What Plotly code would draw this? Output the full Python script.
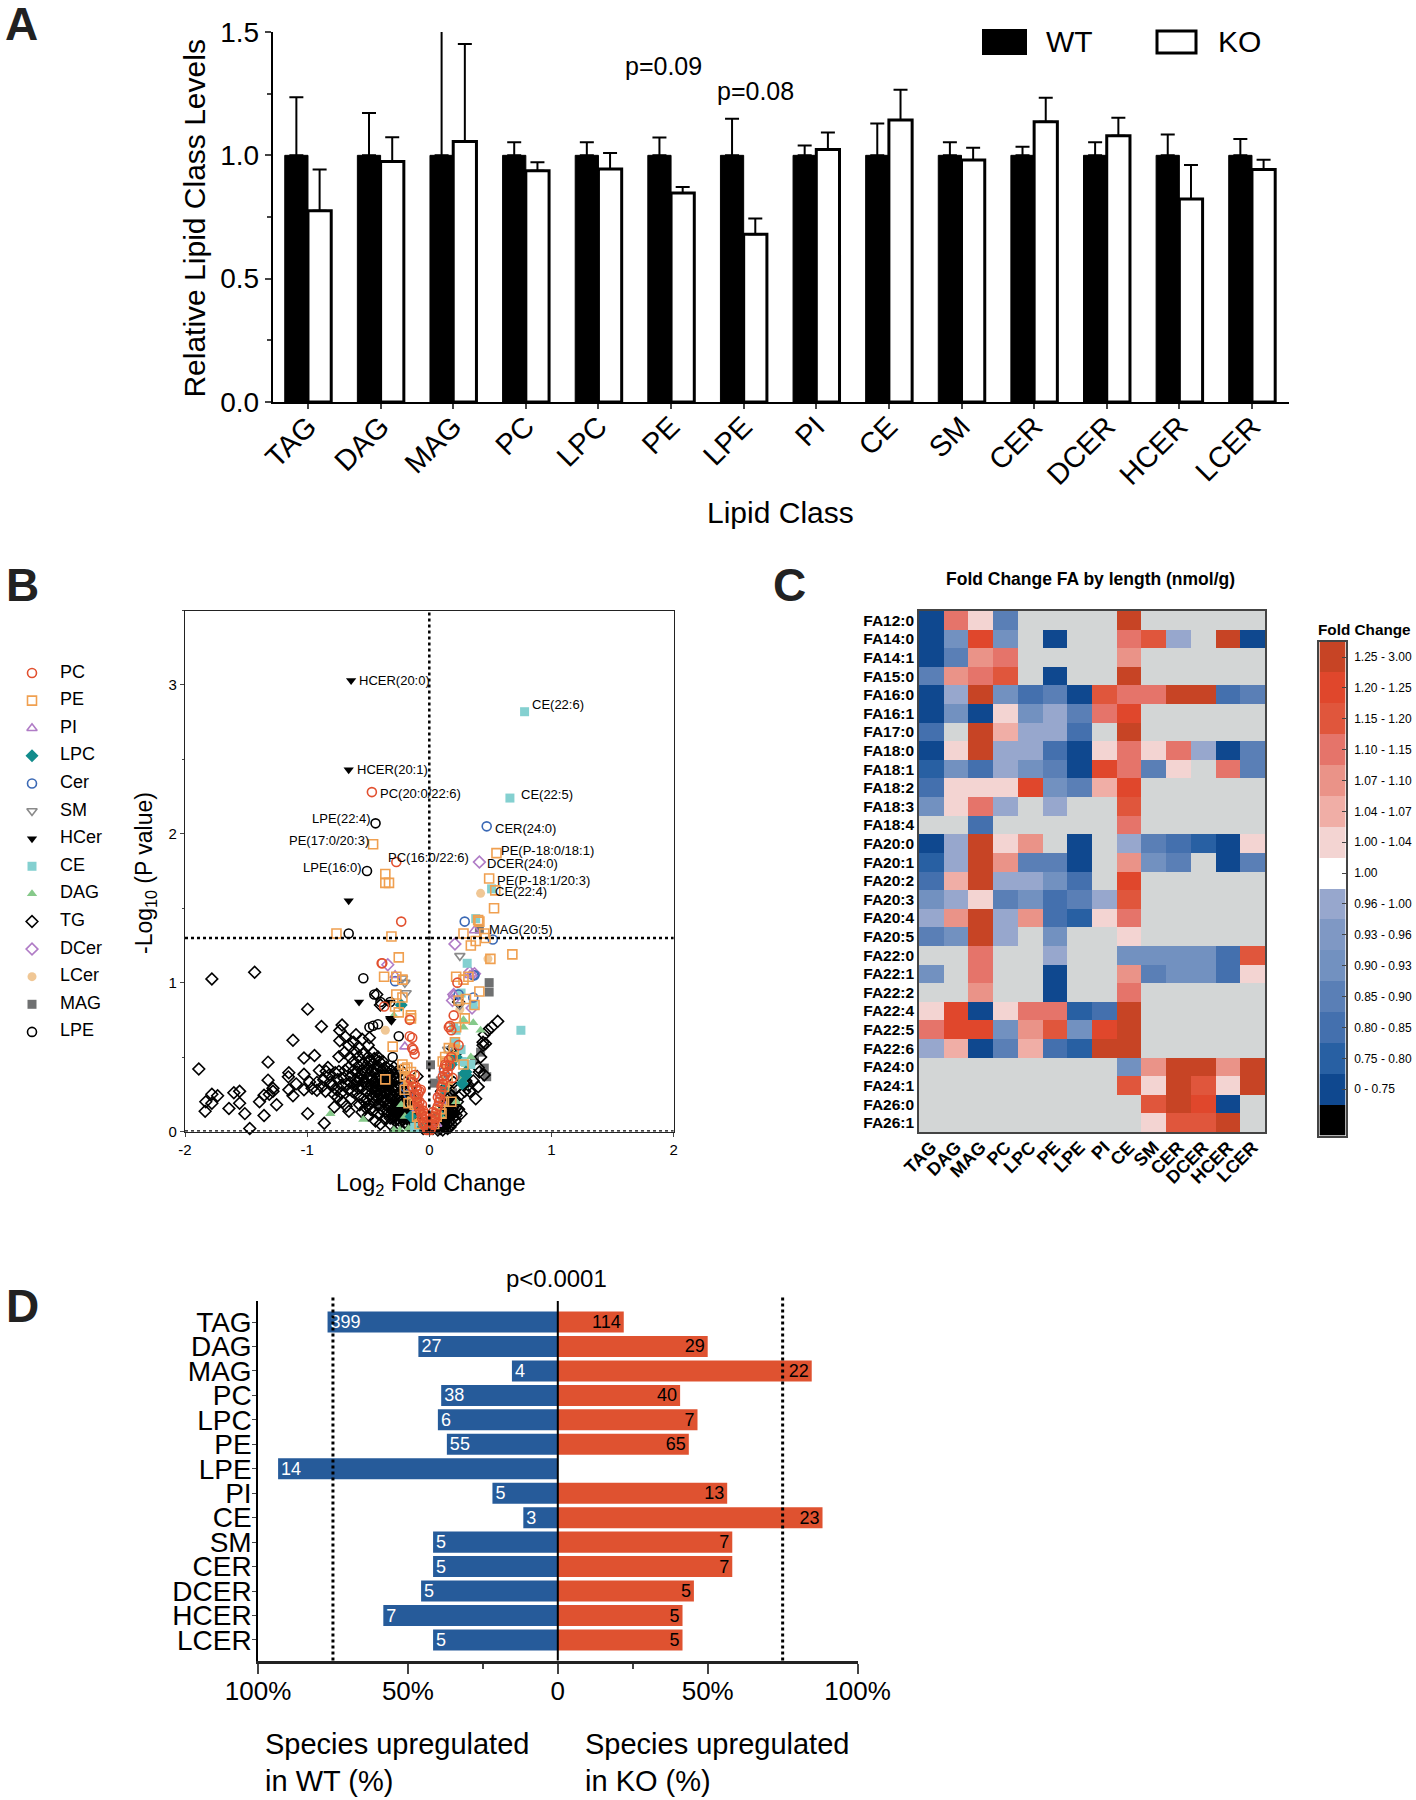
import plotly.graph_objects as go

FONT = "Liberation Sans"
W, H = 1416, 1800

# ---------- Panel A ----------
classes = ["TAG","DAG","MAG","PC","LPC","PE","LPE","PI","CE","SM","CER","DCER","HCER","LCER"]
wt_level = [1.0]*14
wt_err = [0.235,0.172,0.60,0.053,0.053,0.072,0.148,0.04,0.129,0.053,0.035,0.053,0.084,0.066]
ko_level = [0.775,0.975,1.056,0.938,0.945,0.847,0.68,1.024,1.143,0.981,1.136,1.079,0.823,0.943]
ko_err = [0.168,0.098,0.395,0.034,0.064,0.025,0.064,0.069,0.123,0.05,0.097,0.073,0.138,0.039]

# ---------- Panel B ----------
PC = [(-.47,2.28),(-.27,1.81),(-.23,1.41),(-.39,1.13),(-.385,1.13),(.23,1.0),(-.37,.84),(-.16,.75),(.2,.78),(.17,.71),(.16,.7),(.18,.68),(.24,.58),
      (-.16,.64),(-.14,.63),(-.14,.56),(-.13,.55),(-.12,.52),(-.11,.3),(-.1,.28),(-.12,.25),(-.09,.25),(-.07,.28),(-.1,.22),(-.08,.2),(-.06,.18),
      (-.09,.17),(-.05,.14),(-.07,.13),(-.04,.12),(-.03,.1),(-.06,.09),(-.02,.07),(-.04,.06),(-.03,.03),(-.01,.02),(-.02,.01),(0,.01),(.01,.01),
      (.02,.03),(.03,.05),(.02,.08),(.04,.1),(.05,.12),(.03,.13),(.06,.15),(.08,.2),(.07,.23),(.09,.25),(.1,.27),(.11,.32),(.12,.35),(.13,.38),
      (.12,.42),(.14,.44),(.15,.4),(.16,.48),(.18,.5),(.19,.36),(-.13,.33),(-.15,.35),(-.12,.38),(-.1,.2),(-.14,.3),(.1,.3),(.09,.22),(.07,.17),
      (.05,.09),(.04,.07),(-.08,.15),(-.06,.11),(-.05,.05),(.11,.37),(.13,.45),(.17,.44),(-.11,.24),(-.08,.27)]
PE = [(-.46,1.93),(.55,1.87),(.49,1.7),(.54,1.62),(.53,1.5),(.4,1.42),(.41,1.41),(.28,1.33),(.45,1.33),(.46,1.3),(.38,1.28),(.34,1.25),(.68,1.19),
      (.5,1.16),(-.36,1.73),(-.36,1.67),(-.33,1.67),(-.76,1.33),(-.31,1.31),(-.25,1.17),(.22,1.04),(.32,1.04),(.28,1.02),(.41,.94),(-.27,1.04),
      (-.37,1.04),(-.22,1.02),(-.27,.92),(-.22,.9),(.24,.88),(.3,.89),(.37,.85),(-.28,.84),(-.25,.8),(-.15,.78),(-.15,.76),(.29,.76),(.22,.7),
      (.21,.6),(.2,.55),(.16,.56),(.13,.5),(.11,.47),(.19,.5),(.14,.46),(.28,.45),(-.3,.57),(-.36,.35),(-.2,.42),(-.22,.45),(-.18,.43),(-.2,.37),
      (-.17,.35),(-.15,.4),(-.2,.28),(-.17,.3),(-.14,.2),(-.12,.18),(-.17,.19),(.18,.2),(.12,.2),(.09,.15),(.06,.1),(-.06,.1),(-.1,.1),(-.08,.05),
      (.04,.05),(.1,.12),(.12,.3),(.15,.35)]
PI = [(.37,1.35),(.33,1.05),(-.2,.57),(-.28,1.05),(.35,1.06),(.2,.92),(-.1,.15),(.1,.2),(.06,.05)]
LPC = [(-.23,.85),(.3,.4),(.29,.39),(.3,.38),(-.15,.1),(.18,.45),(.22,.5),(-.05,.03),(.27,.32),(.08,.12),(.12,.28)]
Cer = [(.47,2.05),(.29,1.41),(.52,1.29),(.36,1.05),(.37,1.05),(.36,.9),(-.28,1.01),(-.2,.3),(.24,.92),(.12,.4),(-.17,.25)]
SM = [(.25,1.18),(-.2,1.0),(-.19,.93),(-.22,1.03),(.15,.55),(.1,.35),(-.1,.2),(.02,.03),(.25,.85)]
HCer = [(-.64,3.03),(-.66,2.43),(-.66,1.55),(-.575,.87),(-.33,.87),(-.32,.76),(-.31,.74),(-.32,.75),(.3,.31),(.28,.3),(.1,.02),(.2,.5)]
CE = [(.78,2.82),(.66,2.24),(.51,1.63),(.38,1.43),(.31,1.13),(.75,.68),(.26,.93),(.36,.85),(.2,.7),(.22,.68),(-.12,.03),(-.08,.02),(.26,.55),
      (.27,.47),(.34,.45),(.21,.6)]
DAG = [(-.81,.12),(-.54,.08),(-.29,.01),(-.24,.01),(-.17,.02),(-.15,.01),(-.29,.78),(-.23,.18),(-.2,.1),(.28,.75),(.36,.73),(.28,.7),(.42,.68),
       (.29,.38),(.28,.3),(.22,.2),(.1,.1),(-.13,.02),(.3,.45),(.34,.5),(.27,.35),(-.12,.04)]
DCer = [(.41,1.81),(.21,1.26),(-.34,1.12),(.33,1.07),(.37,1.06),(.2,.92),(.19,.88),(.35,.83),(.09,.25),(-.13,.2)]
LCer = [(.42,1.6),(.48,1.16),(-.36,.68),(.25,.82),(.17,.3),(.1,.2)]
MAG = [(.41,1.36),(.49,1.0),(.49,.937),(.01,.448),(.04,.325),(.42,.533),(.37,.48),(.45,.426),(.47,.368),(.27,.37),(.19,.26),(-.418,.168),(-.26,.39)]
LPE = [(-.44,2.07),(-.51,1.75),(-.66,1.33),(-.54,1.03),(-.45,.92),(-.4,.87),(-.49,.7),(-.46,.71),(-.25,.64),(-.32,.87),(-.3,.5),(-.42,.72)]
TG = [(-1.887,.42),(-1.78,1.025),(-1.43,1.07),(-1.835,.136),(-1.83,.2),(-1.78,.25),(-1.733,.24),(-1.78,.19),(-1.64,.155),(-1.6,.26),(-1.553,.27),
      (-1.553,.19),(-1.51,.12),(-1.47,.02),(-1.39,.2),(-1.353,.107),(-1.353,.243),(-1.31,.25),(-1.32,.466),(-1.32,.345),(-1.28,.27),(-1.25,.18),
      (-1.28,.29),(-1.15,.395),(-1.15,.28),(-1.116,.24),(-1.116,.613),(-1.154,.367),(-1.09,.32),(-1.026,.494),(-1.026,.28),(-1.026,.384),(-.996,.822),
      (-.996,.12),(-.94,.51),(-.98,.333),(-.92,.33),(-.883,.706),(-.86,.056),(-.92,.277),(-.865,.347),(-.83,.43),(-.845,.404),(-.81,.333),(-.77,.395),
      (-.74,.404),(-.714,.715),(-.733,.678),(-.688,.636),(-.733,.61),(-.74,.503),(-.695,.53),(-.778,.164),(-.658,.136),(-.79,.31),(-.76,.28),(-.72,.26),
      (-.75,.23),(-.7,.36),(-.68,.32),(-.66,.28),(-.71,.2),(-.68,.17),(-.64,.22),(-.62,.6),(-.58,.57),(-.66,.58),(-.6,.53),(-.55,.62),(-.5,.58),(-.65,.5),
      (-.62,.47),(-.58,.5),(-.54,.52),(-.5,.5),(-.46,.53),(-.42,.5),(-.66,.43),(-.62,.41),(-.58,.44),(-.54,.46),(-.5,.43),(-.46,.46),(-.42,.44),(-.38,.47),
      (-.35,.43),(-.64,.37),(-.6,.35),(-.56,.38),(-.52,.4),(-.48,.37),(-.44,.39),(-.4,.37),(-.36,.38),(-.32,.36),(-.62,.31),(-.58,.29),(-.54,.33),(-.5,.31),
      (-.46,.33),(-.42,.31),(-.38,.33),(-.34,.31),(-.3,.33),(-.27,.3),(-.6,.25),(-.56,.23),(-.52,.27),(-.48,.25),(-.44,.27),(-.4,.25),(-.36,.27),(-.32,.25),
      (-.28,.27),(-.25,.24),(-.57,.18),(-.53,.2),(-.49,.18),(-.45,.2),(-.41,.18),(-.37,.2),(-.33,.18),(-.29,.2),(-.26,.17),(-.23,.2),(-.55,.13),(-.5,.11),
      (-.46,.14),(-.42,.12),(-.38,.14),(-.34,.12),(-.3,.14),(-.27,.11),(-.24,.14),(-.21,.12),(-.44,.07),(-.4,.05),(-.36,.08),(-.32,.05),(-.28,.07),(-.25,.05),
      (-.22,.08),(-.19,.05),(-.16,.07),(-.53,.34),(-.47,.29),(-.43,.35),(-.39,.29),(-.35,.35),(-.31,.29),(-.29,.38),(-.27,.35),(-.24,.31),(-.22,.28),(-.2,.24),
      (-.35,.22),(-.31,.22),(-.27,.22),(-.24,.22),(-.21,.19),(-.19,.16),(-.17,.13),(-.33,.16),(-.29,.16),(-.25,.16),(-.22,.15),(-.2,.1),(-.18,.09),(-.15,.11),
      (-.14,.05),(-.3,.1),(-.26,.09),(-.23,.1),(-.46,.23),(-.42,.22),(-.38,.23),(-.51,.22),(-.55,.3),(-.59,.33),(-.63,.27),(-.51,.36),(-.47,.41),(-.43,.42),
      (-.39,.41),(-.55,.41),(-.59,.4),(-.35,.4),(-.31,.41),(-.27,.4),(-.72,.31),(-.75,.35),(-.69,.41),(-.65,.33),(-.78,.25),(-.82,.38),(-.88,.3),(-.85,.27),
      (-.96,.29),(-.9,.41),(-.23,.41),(-.21,.36),(-.16,.29),(-.19,.33),(-.15,.23),(-.13,.17),(-.11,.1),(-.1,.06),(-.07,.05),(-.05,.02),(-.49,.63),(-.6,.65),
      (-.43,.92),(-.4,.85),(.24,.87),(.03,.02),(.05,.03),(.07,.01),(.09,.02),(.11,.01),(.13,.03),(.15,.02),(.17,.03),(.06,.05),(.08,.04),(.1,.05),(.12,.06),
      (.14,.05),(.16,.06),(.18,.05),(.09,.08),(.11,.09),(.13,.08),(.15,.09),(.17,.1),(.19,.09),(.21,.07),(.1,.12),(.12,.13),(.14,.12),(.16,.13),(.18,.14),(.2,.13),
      (.22,.11),(.12,.17),(.14,.16),(.16,.18),(.18,.19),(.2,.17),(.22,.16),(.14,.22),(.16,.23),(.18,.24),(.2,.21),(.24,.15),(.26,.12),(.23,.2),(.26,.25),(.29,.27),
      (.33,.27),(.38,.22),(.4,.3),(.41,.4),(.4,.43),(.45,.38),(.42,.5),(.44,.58),(.46,.59),(.44,.6),(.45,.65),(.48,.68),(.51,.7),(.56,.74),(.2,.33),(.22,.29),
      (.19,.56),(.21,.52),(.3,.34),(.32,.31),(.36,.34),(-.1,.37),(.1,.27),(.06,.09),
      (-.44,.3),(-.41,.28),(-.37,.3),(-.33,.28),(-.29,.3),(-.43,.24),(-.39,.21),(-.35,.25),(-.31,.24),(-.27,.19),(-.34,.14),(-.3,.18),(-.26,.13),(-.23,.17),
      (-.22,.24),(-.19,.2),(-.28,.13),(-.24,.11),(-.2,.14),(-.18,.17),(-.16,.16),(-.32,.09),(-.28,.1),(-.24,.07),(-.2,.06),(-.17,.04),(-.52,.16),(-.48,.15),
      (-.57,.36),(-.53,.43),(-.49,.47),(-.45,.49),(-.41,.47),(-.37,.42),(-.33,.39),(-.29,.43),(-.47,.35),(-.41,.34),(-.37,.35),(-.33,.34),(.08,.06),(.1,.07),
      (.12,.09),(.14,.08),(.16,.1),(.18,.11),(.07,.03),(.11,.04),(.13,.1),(.15,.12),(.17,.15),(.19,.16),(.15,.19)]

series_order = ["LPE","MAG","LCer","DCer","TG","DAG","CE","HCer","SM","Cer","LPC","PI","PE","PC"]
legend_order = ["PC","PE","PI","LPC","Cer","SM","HCer","CE","DAG","TG","DCer","LCer","MAG","LPE"]
points = dict(PC=PC,PE=PE,PI=PI,LPC=LPC,Cer=Cer,SM=SM,HCer=HCer,CE=CE,DAG=DAG,TG=TG,DCer=DCer,LCer=LCer,MAG=MAG,LPE=LPE)
volcano_labels = ["HCER(20:0)","CE(22:6)","HCER(20:1)","PC(20:0/22:6)","CE(22:5)","LPE(22:4)","CER(24:0)","PE(17:0/20:3)","PE(P-18:0/18:1)",
                  "PC(16:0/22:6)","DCER(24:0)","LPE(16:0)","PE(P-18:1/20:3)","CE(22:4)","MAG(20:5)"]
volcano_label_x = [-.58,.83,-.6,-.41,.746,-.965,.528,-1.153,.576,-.345,.464,-1.044,.55,.528,.479]
volcano_label_y = [3.031,2.867,2.432,2.268,2.266,2.1,2.037,1.955,1.887,1.842,1.802,1.774,1.689,1.61,1.356]

style = {
 "PC":("circle-open","#e2502f",9), "PE":("square-open","#f0a050",9), "PI":("triangle-up-open","#b07cc6",9),
 "LPC":("diamond","#128c8c",10), "Cer":("circle-open","#3b69b5",9), "SM":("triangle-down-open","#8a8a8a",9),
 "HCer":("triangle-down","#000000",9), "CE":("square","#84d0d0",9), "DAG":("triangle-up","#86c98a",9),
 "TG":("diamond-open","#000000",9), "DCer":("diamond-open","#b07cc6",9), "LCer":("circle","#f0c795",9),
 "MAG":("square","#6f7071",9), "LPE":("circle-open","#000000",9),
}

# ---------- Panel C ----------
fa_rows = ["FA12:0","FA14:0","FA14:1","FA15:0","FA16:0","FA16:1","FA17:0","FA18:0","FA18:1","FA18:2","FA18:3","FA18:4","FA20:0","FA20:1","FA20:2",
           "FA20:3","FA20:4","FA20:5","FA22:0","FA22:1","FA22:2","FA22:4","FA22:5","FA22:6","FA24:0","FA24:1","FA26:0","FA26:1"]
G = 16  # no data
heat_bins = [
 [14,3,6,11,G,G,G,G,0,G,G,G,G,G],
 [14,10,1,10,G,14,G,G,3,2,8,G,0,14],
 [14,11,4,3,G,G,G,G,4,G,G,G,G,G],
 [11,4,3,2,G,14,G,G,0,G,G,G,G,G],
 [14,8,0,10,12,11,14,2,3,3,0,0,12,11],
 [14,10,14,6,10,8,11,3,1,G,G,G,G,G],
 [12,G,0,5,8,8,12,G,0,G,G,G,G,G],
 [14,6,0,8,8,12,14,6,3,6,3,8,14,11],
 [13,10,12,8,10,11,14,1,3,11,6,G,3,11],
 [12,6,6,6,1,10,11,5,1,G,G,G,G,G],
 [10,6,3,8,G,8,G,G,2,G,G,G,G,G],
 [G,G,12,G,G,G,G,G,3,G,G,G,G,G],
 [14,8,0,6,4,G,14,G,8,11,12,13,14,6],
 [13,8,0,4,11,11,14,G,4,10,11,G,14,11],
 [12,5,0,8,8,10,12,G,1,G,G,G,G,G],
 [10,8,6,11,10,12,11,8,2,G,G,G,G,G],
 [8,4,0,8,4,12,13,6,3,G,G,G,G,G],
 [11,10,0,8,G,10,G,G,6,G,G,G,G,G],
 [G,G,3,G,G,8,G,G,10,10,10,10,12,2],
 [10,G,3,G,G,14,G,G,4,11,10,10,12,6],
 [G,G,4,G,G,14,G,G,3,G,G,G,G,G],
 [6,1,14,6,3,3,13,12,0,G,G,G,G,G],
 [3,1,1,10,4,2,10,1,0,G,G,G,G,G],
 [8,5,14,11,5,12,13,0,0,G,G,G,G,G],
 [G,G,G,G,G,G,G,G,10,4,0,0,4,0],
 [G,G,G,G,G,G,G,G,2,6,0,2,6,0],
 [G,G,G,G,G,G,G,G,G,2,0,1,14,G],
 [G,G,G,G,G,G,G,G,G,6,2,2,0,G],
]
bin_labels = ["1.25 - 3.00","1.20 - 1.25","1.15 - 1.20","1.10 - 1.15","1.07 - 1.10","1.04 - 1.07","1.00 - 1.04","1.00",
              "0.96 - 1.00","0.93 - 0.96","0.90 - 0.93","0.85 - 0.90","0.80 - 0.85","0.75 - 0.80","0 - 0.75",""]
bin_colors = ["#c74425","#e0472c","#e0563c","#e5746a","#ea9388","#f0aea6","#f3d4d2","#ffffff",
              "#97a7cd","#7f98c4","#7291c0","#5a7fb6","#4470ae","#2860a3","#0f488f","#000000","#d3d6d6"]

# ---------- Panel D ----------
wt_pct = [76.8,46.5,15.3,38.9,40,37,93.3,21.8,11.5,41.6,41.6,45.6,58.2,41.6]
ko_pct = [22,50,84.7,40.8,46.6,43.7,0,56.5,88.3,58.2,58.2,45.4,41.6,41.6]
wt_n = ["399","27","4","38","6","55","14","5","3","5","5","5","7","5"]
ko_n = ["114","29","22","40","7","65","","13","23","7","7","5","5","5"]

# ---------- helpers ----------
def dx(l, r): return [l/W, r/W]
def dy(t, b): return [1-b/H, 1-t/H]

fig = go.Figure()
ann = []
def text(px, py, s, size, anchor="left", angle=0, bold=False, color="#000000"):
    ann.append(dict(xref="paper", yref="paper", x=px/W, y=1-py/H, text=s, showarrow=False, xanchor=anchor, yanchor="middle",
                    textangle=angle, align="left", borderpad=0, font=dict(family=FONT, size=size, color=color, weight=700 if bold else 400)))

# Panel A traces
fig.add_trace(go.Bar(x=classes, y=wt_level, name="WT", marker=dict(color="#000000", line=dict(color="#000000", width=1)),
                     error_y=dict(type="data", symmetric=False, array=wt_err, arrayminus=[0]*14, color="#000000", thickness=2, width=7),
                     xaxis="x", yaxis="y"))
fig.add_trace(go.Bar(x=classes, y=ko_level, name="KO", marker=dict(color="#ffffff", line=dict(color="#000000", width=3)),
                     error_y=dict(type="data", symmetric=False, array=ko_err, arrayminus=[0]*14, color="#000000", thickness=2, width=7),
                     xaxis="x", yaxis="y"))

# Panel B traces
for name in series_order:
    sym, col, sz = style[name]
    pts = points[name]
    lw = 1.6 if sym.endswith("open") else 0
    fig.add_trace(go.Scatter(x=[p[0] for p in pts], y=[p[1] for p in pts], mode="markers", name=name, cliponaxis=False,
                             marker=dict(symbol=sym, color=col, size=sz, line=dict(color=col, width=lw)), xaxis="x2", yaxis="y2"))

# Panel B legend
for i, name in enumerate(legend_order):
    sym, col, sz = style[name]
    lw = 1.6 if sym.endswith("open") else 0
    fig.add_trace(go.Scatter(x=[12], y=[i], mode="markers", marker=dict(symbol=sym, color=col, size=sz, line=dict(color=col, width=lw)),
                             xaxis="x5", yaxis="y5", showlegend=False))
fig.add_trace(go.Scatter(x=[40]*14, y=list(range(14)), mode="text", text=legend_order, textposition="middle right",
                         textfont=dict(family=FONT, size=18, color="#000000"), xaxis="x5", yaxis="y5"))

# Panel C
n = len(bin_colors)
scale = []
for i, c in enumerate(bin_colors):
    scale += [[i/n, c], [(i+1)/n, c]]
fig.add_trace(go.Heatmap(z=heat_bins, x=classes, y=fa_rows, zmin=-.5, zmax=n-.5, colorscale=scale, showscale=False, xaxis="x3", yaxis="y3"))
fig.add_trace(go.Heatmap(z=[[i] for i in range(16)], x=["Fold Change"], y=[str(i) for i in range(16)], zmin=-.5, zmax=n-.5, colorscale=scale,
                         showscale=False, xaxis="x6", yaxis="y6"))

# Panel D
fig.add_trace(go.Bar(y=classes, x=[-v for v in wt_pct], orientation="h", width=.86, offsetgroup="d", text=wt_n, textposition="inside",
                     insidetextanchor="end", textangle=0, constraintext="none", insidetextfont=dict(family=FONT, size=18, color="#ffffff"),
                     marker=dict(color="#265b9a", line=dict(width=0)), xaxis="x4", yaxis="y4"))
fig.add_trace(go.Bar(y=classes, x=ko_pct, orientation="h", width=.86, offsetgroup="d", text=ko_n, textposition="inside",
                     insidetextanchor="end", textangle=0, constraintext="none", insidetextfont=dict(family=FONT, size=18, color="#000000"),
                     marker=dict(color="#df5230", line=dict(width=0)), xaxis="x4", yaxis="y4"))

tf = lambda s, b=False: dict(family=FONT, size=s, color="#000000", weight=700 if b else 400)
layout = dict(
    template="none",
    width=W, height=H, margin=dict(l=0, r=0, t=0, b=0), paper_bgcolor="#ffffff", plot_bgcolor="#ffffff", showlegend=False,
    barmode="group", bargap=.36, bargroupgap=0, font=dict(family=FONT, color="#000000"),
    xaxis=dict(domain=dx(272.7,1289), range=[-.486,13.51], type="category", categoryorder="array", categoryarray=classes, showgrid=False, zeroline=False,
               showline=True, linecolor="#000000", linewidth=2, ticks="outside", ticklen=5, tickwidth=2, tickangle=-45, tickfont=tf(29), ticklabelstandoff=-11, anchor="y"),
    yaxis=dict(domain=dy(32,402), range=[0,1.5], showgrid=False, zeroline=False, showline=True, linecolor="#000000", linewidth=2, ticks="outside",
               ticklen=6, tickwidth=2, tickvals=[0,.5,1,1.5], ticktext=["0.0","0.5","1.0","1.5"], tickfont=tf(28),
               minor=dict(tickvals=[.25,.75,1.25], ticks="outside", ticklen=4, tickwidth=2), anchor="x"),
    xaxis2=dict(domain=dx(185,673.6), range=[-2,2], tickvals=[-2,-1,0,1,2], ticktext=["-2","-1","0","1","2"], showgrid=False, zeroline=False, showline=True, mirror=True, linecolor="#222222",
                linewidth=1.2, ticks="outside", ticklen=4, tickfont=tf(15), anchor="y2"),
    yaxis2=dict(domain=dy(610.5,1131.5), range=[0,3.5], tickvals=[0,1,2,3], showgrid=False, zeroline=False, showline=True, mirror=True, linecolor="#222222",
                linewidth=1.2, ticks="outside", ticklen=4, tickfont=tf(15), minor=dict(tickvals=[.5,1.5,2.5,3.5], ticks="outside", ticklen=2), anchor="x2"),
    xaxis3=dict(domain=dx(919,1265), showgrid=False, zeroline=False, showline=True, mirror=True, linecolor="#444444", linewidth=1.5, ticks="",
                tickangle=-45, tickfont=tf(18,True), ticklabelstandoff=-4, type="category", anchor="y3"),
    yaxis3=dict(domain=dy(611,1132), autorange="reversed", showgrid=False, zeroline=False, showline=True, mirror=True, linecolor="#444444", linewidth=1.5,
                ticks="", tickfont=tf(15.5,True), type="category", anchor="x3", dtick=1),
    xaxis4=dict(domain=dx(258,857.6), range=[-100,100], showgrid=False, zeroline=False, showline=True, linecolor="#222222", linewidth=3, ticks="outside",
                ticklen=10, tickwidth=1.5, tickvals=[-100,-50,0,50,100], ticktext=["100%","50%","0","50%","100%"], tickfont=tf(26), ticklabelstandoff=-5,
                minor=dict(tickvals=[-25,25], ticks="outside", ticklen=5, tickwidth=1.5), anchor="y4"),
    yaxis4=dict(domain=dy(1301,1660.5), range=[13.84,-.86], type="category", categoryorder="array", categoryarray=classes, showgrid=False, zeroline=False,
                showline=True, linecolor="#000000", linewidth=1.5, ticks="outside", ticklen=4, tickfont=tf(28), ticklabelstandoff=-5, anchor="x4", dtick=1),
    xaxis5=dict(domain=dx(20,110), range=[0,90], visible=False, anchor="y5"),
    yaxis5=dict(domain=dy(651.5,1051.5), range=[13.71,-.78], visible=False, anchor="x5"),
    xaxis6=dict(domain=dx(1319.4,1345.8), showgrid=False, zeroline=False, showline=True, mirror=True, linecolor="#444444", linewidth=2, ticks="",
                showticklabels=False, anchor="y6"),
    yaxis6=dict(domain=dy(641.6,1135.5), autorange="reversed", side="right", showgrid=False, zeroline=False, showline=True, mirror=True, linecolor="#444444",
                linewidth=2, ticks="inside", ticklen=4, tickvals=[str(i) for i in range(15)], ticktext=bin_labels[:15], tickfont=tf(12), ticklabelstandoff=4, anchor="x6", type="category"),
)

dots = lambda w=2.5: dict(color="#000000", width=w, dash="dot")
layout["shapes"] = [
    dict(type="line", xref="x2", yref="y2 domain", x0=0, x1=0, y0=0, y1=1, line=dots()),
    dict(type="line", xref="x2 domain", yref="y2", x0=0, x1=1, y0=1.3, y1=1.3, line=dots()),
    dict(type="line", xref="x2 domain", yref="y2", x0=0, x1=1, y0=0, y1=0, line=dots()),
    dict(type="line", xref="x4", yref="y4 domain", x0=-75, x1=-75, y0=0, y1=1.01, line=dots(3)),
    dict(type="line", xref="x4", yref="y4 domain", x0=75, x1=75, y0=0, y1=1.01, line=dots(3)),
    dict(type="line", xref="x4", yref="y4 domain", x0=0, x1=0, y0=0, y1=1, line=dict(color="#000000", width=2)),
    # panel A key
    dict(type="rect", xref="paper", yref="paper", x0=982/W, x1=1027/W, y0=1-55/H, y1=1-29/H, fillcolor="#000000", line=dict(color="#000000", width=0)),
    dict(type="rect", xref="paper", yref="paper", x0=1157/W, x1=1196/W, y0=1-53/H, y1=1-31/H, fillcolor="#ffffff", line=dict(color="#000000", width=3)),
]

for lab, lx, ly in zip(volcano_labels, volcano_label_x, volcano_label_y):
    ann.append(dict(xref="x2", yref="y2", x=lx, y=ly, text=lab, showarrow=False, xanchor="left", yanchor="middle", borderpad=0,
                    font=dict(family=FONT, size=13, color="#000000")))

text(4, 24, "A", 46, bold=True, color="#222222")
text(5, 585, "B", 46, bold=True, color="#222222")
text(772, 585, "C", 46, bold=True, color="#222222")
text(5, 1306, "D", 46, bold=True, color="#222222")
text(193.6, 218, "Relative Lipid Class Levels", 30, "center", -90)
text(780, 513, "Lipid Class", 30, "center")
text(624, 66.4, "p=0.09", 25)
text(716, 91, "p=0.08", 25)
text(1045, 41, "WT", 30)
text(1217, 41, "KO", 30)
text(145, 873, "-Log<sub>10</sub> (P value)", 23, "center", -90)
text(430, 1184, "Log<sub>2</sub> Fold Change", 23.5, "center")
text(1090, 579, "Fold Change FA by length (nmol/g)", 17.5, "center", bold=True)
text(1317, 629, "Fold Change", 15.3, bold=True)
text(556, 1278, "p&lt;0.0001", 24, "center")
text(264, 1744, "Species upregulated", 29)
text(264, 1781, "in WT (%)", 29)
text(584, 1744, "Species upregulated", 29)
text(584, 1781, "in KO (%)", 29)
layout["annotations"] = ann
fig.update_layout(**layout)
fig.write_html("out.html", post_script="document.body.style.margin='0';", config=dict(displayModeBar=False))
